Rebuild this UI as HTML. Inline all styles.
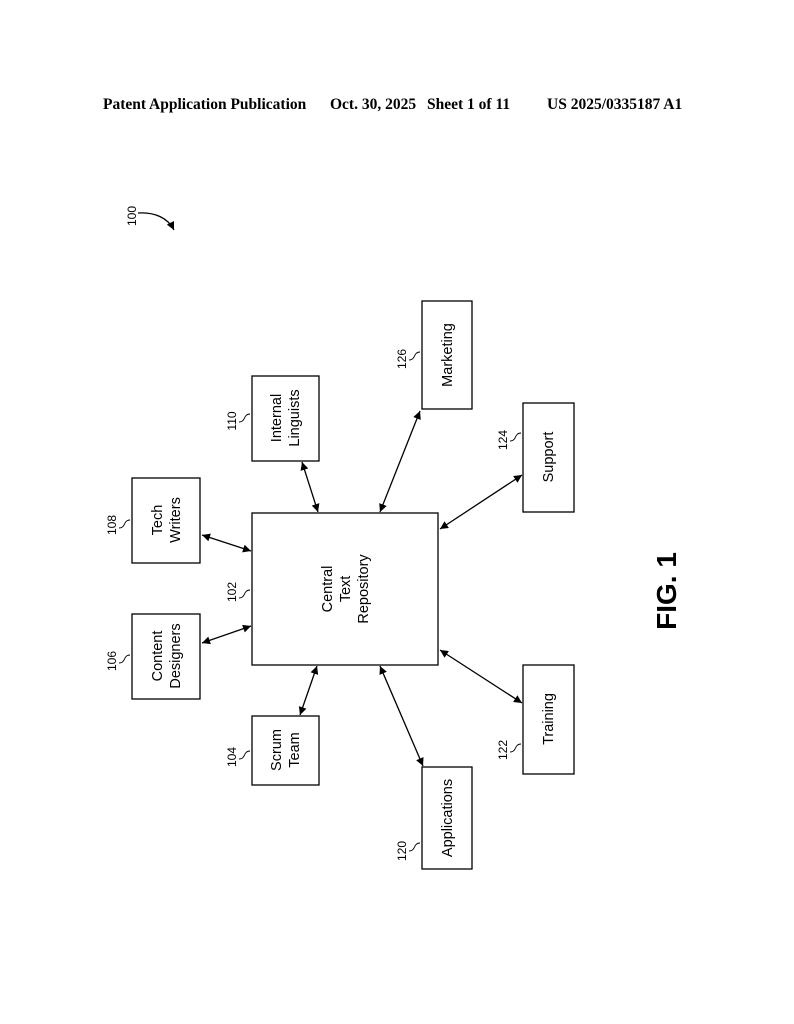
<!DOCTYPE html>
<html><head><meta charset="utf-8"><style>
html,body{margin:0;padding:0;background:#fff;}
svg{display:block;}
.h{font-family:"Liberation Serif",serif;font-weight:bold;font-size:15.5px;}
.t{font-family:"Liberation Sans",sans-serif;font-size:14.5px;text-anchor:middle;}
.n{font-family:"Liberation Sans",sans-serif;font-size:12px;text-anchor:middle;}
</style></head><body>
<svg width="794" height="1024" viewBox="0 0 794 1024" xmlns="http://www.w3.org/2000/svg">
<defs>
<marker id="a" viewBox="0 0 10 10" refX="10" refY="5" markerWidth="11" markerHeight="8" orient="auto-start-reverse" markerUnits="userSpaceOnUse"><path d="M0,0 L10,5 L0,10 z" fill="#000"/></marker>
</defs>
<text class="h" x="103" y="109">Patent Application Publication</text>
<text class="h" x="330" y="109">Oct. 30, 2025</text>
<text class="h" x="427" y="109">Sheet 1 of 11</text>
<text class="h" x="547" y="109">US 2025/0335187 A1</text>

<g fill="none" stroke="#000" stroke-width="1.3">
<rect x="252" y="513" width="186" height="152"/>
<rect x="132" y="478" width="68" height="85"/>
<rect x="132" y="614" width="68" height="85"/>
<rect x="252" y="376" width="67" height="85"/>
<rect x="252" y="716" width="67" height="69"/>
<rect x="422" y="767" width="50" height="102"/>
<rect x="523" y="665" width="51" height="109"/>
<rect x="523" y="403" width="51" height="109"/>
<rect x="422" y="301" width="50" height="108"/>
<g marker-start="url(#a)" marker-end="url(#a)">
<line x1="202" y1="535" x2="251" y2="551"/>
<line x1="202" y1="643" x2="251" y2="626"/>
<line x1="302" y1="462" x2="318" y2="512"/>
<line x1="420" y1="411" x2="380" y2="512"/>
<line x1="522" y1="475" x2="440" y2="529"/>
<line x1="440" y1="650" x2="522" y2="703"/>
<line x1="380" y1="666" x2="423" y2="766"/>
<line x1="317" y1="666" x2="300" y2="715"/>
</g>
<path d="M138,213 C155,212 168,218 174,230" marker-end="url(#a)"/>
<g stroke-width="0.9">
<path d="M250,590 c-4,0 -5,3 -6,5 c-1,2 -3,3 -5,3"/>
<path d="M130,520 c-4,0 -5,3 -6,5 c-1,2 -3,3 -5,3"/>
<path d="M130,655 c-4,0 -5,3 -6,5 c-1,2 -3,3 -5,3"/>
<path d="M250,414 c-4,0 -5,3 -6,5 c-1,2 -3,3 -5,3"/>
<path d="M250,751 c-4,0 -5,3 -6,5 c-1,2 -3,3 -5,3"/>
<path d="M420,843 c-4,0 -5,3 -6,5 c-1,2 -3,3 -5,3"/>
<path d="M521,744 c-4,0 -5,3 -6,5 c-1,2 -3,3 -5,3"/>
<path d="M521,433 c-4,0 -5,3 -6,5 c-1,2 -3,3 -5,3"/>
<path d="M420,352 c-4,0 -5,3 -6,5 c-1,2 -3,3 -5,3"/>
</g>
</g>

<g class="t">
<text transform="translate(345,589) rotate(-90)"><tspan x="0" y="-13">Central</tspan><tspan x="0" y="5">Text</tspan><tspan x="0" y="23">Repository</tspan></text>
<text transform="translate(166,520) rotate(-90)"><tspan x="0" y="-4">Tech</tspan><tspan x="0" y="14">Writers</tspan></text>
<text transform="translate(166,656) rotate(-90)"><tspan x="0" y="-4">Content</tspan><tspan x="0" y="14">Designers</tspan></text>
<text transform="translate(285,418) rotate(-90)"><tspan x="0" y="-4">Internal</tspan><tspan x="0" y="14">Linguists</tspan></text>
<text transform="translate(285,750) rotate(-90)"><tspan x="0" y="-4">Scrum</tspan><tspan x="0" y="14">Team</tspan></text>
<text transform="translate(447,818) rotate(-90)"><tspan x="0" y="5">Applications</tspan></text>
<text transform="translate(548,719) rotate(-90)"><tspan x="0" y="5">Training</tspan></text>
<text transform="translate(548,457) rotate(-90)"><tspan x="0" y="5">Support</tspan></text>
<text transform="translate(447,355) rotate(-90)"><tspan x="0" y="5">Marketing</tspan></text>
</g>
<g class="n">
<text transform="translate(136,216) rotate(-90)">100</text>
<text transform="translate(236,592) rotate(-90)">102</text>
<text transform="translate(116,525) rotate(-90)">108</text>
<text transform="translate(116,661) rotate(-90)">106</text>
<text transform="translate(236,421) rotate(-90)">110</text>
<text transform="translate(236,757) rotate(-90)">104</text>
<text transform="translate(406,851) rotate(-90)">120</text>
<text transform="translate(507,750) rotate(-90)">122</text>
<text transform="translate(507,440) rotate(-90)">124</text>
<text transform="translate(406,359) rotate(-90)">126</text>
</g>
<text transform="translate(676,591) rotate(-90)" font-family="Liberation Sans, sans-serif" font-weight="bold" font-size="28" text-anchor="middle">FIG. 1</text>
</svg>
</body></html>
